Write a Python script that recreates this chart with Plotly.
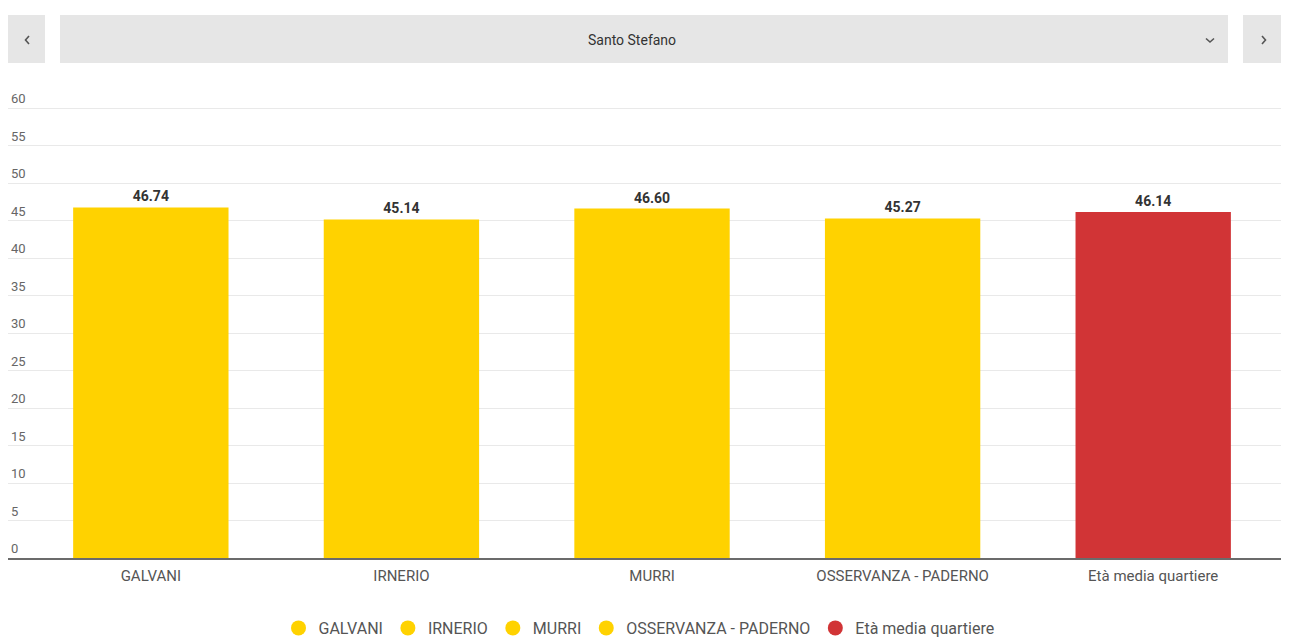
import plotly.graph_objects as go

W, H = 1290, 639

categories = ["GALVANI", "IRNERIO", "MURRI", "OSSERVANZA - PADERNO", "Età media quartiere"]
values = [46.74, 45.14, 46.60, 45.27, 46.14]
colors = ["#FFD200", "#FFD200", "#FFD200", "#FFD200", "#D13436"]
y_ticks = list(range(0, 61, 5))
selected_area = "Santo Stefano"


def px_x(x):
    return x / W


def px_y(y):
    return 1 - y / H


fig = go.Figure()

fig.add_trace(go.Bar(
    x=categories,
    y=values,
    marker=dict(color=colors, line=dict(width=0)),
    texttemplate="<b>%{y:.2f}</b>",
    textposition="outside",
    textfont=dict(family="Roboto", size=14, color="#333333"),
    cliponaxis=False,
    showlegend=False,
    hoverinfo="x+y",
))

# circular legend entries, one per category
for name, col in zip(categories, colors):
    fig.add_trace(go.Scatter(
        x=[None], y=[None], mode="markers", name=name,
        marker=dict(symbol="circle", size=15, color=col),
        showlegend=True, hoverinfo="skip",
    ))

# header controls: previous button, area dropdown, next button
shapes = []
for x0, x1 in [(8, 45), (60, 1228), (1243, 1281)]:
    shapes.append(dict(
        type="rect", xref="paper", yref="paper",
        x0=px_x(x0), x1=px_x(x1), y0=px_y(63), y1=px_y(15),
        fillcolor="#E6E6E6", line=dict(width=0), layer="above",
    ))

# keep the gridlines clear of the tick-label column
shapes.append(dict(
    type="rect", xref="paper", yref="paper",
    x0=px_x(8), x1=px_x(33), y0=px_y(556), y1=px_y(90),
    fillcolor="white", line=dict(width=0), layer="between",
))


def chevron(points):
    path = "M " + " L ".join(f"{px_x(a):.5f},{px_y(b):.5f}" for a, b in points)
    return dict(type="path", xref="paper", yref="paper", path=path,
                line=dict(color="#555555", width=1.6))


shapes.append(chevron([(29, 36), (25.5, 40), (29, 44)]))
shapes.append(chevron([(1262, 36), (1265.5, 40), (1262, 44)]))
shapes.append(chevron([(1206, 38.5), (1210, 42), (1214, 38.5)]))

# y scale: zero line at y0_px, 60 at y60_px
y0_px, y60_px = 558, 108
unit = (y0_px - y60_px) / 60
y_top = 64
fig.update_layout(
    width=W, height=H,
    margin=dict(l=0, r=0, t=0, b=0, pad=0, autoexpand=False),
    paper_bgcolor="white",
    plot_bgcolor="white",
    font=dict(family="Roboto", color="#555555"),
    bargap=0.38,
    shapes=shapes,
    annotations=[dict(
        text=selected_area, xref="paper", yref="paper",
        x=px_x(632), y=px_y(40), xanchor="center", yanchor="middle",
        showarrow=False, font=dict(family="Roboto", size=14, color="#333333"),
    )],
    legend=dict(
        orientation="h", x=px_x(639), xanchor="center", y=px_y(628), yanchor="middle",
        font=dict(family="Roboto", size=16, color="#555555"),
        itemwidth=30, traceorder="normal", bgcolor="rgba(0,0,0,0)",
    ),
    xaxis=dict(
        domain=[px_x(8), px_x(1281)],
        range=[-0.570, 4.51],
        showgrid=False, showline=True, linecolor="#6B6B6B", linewidth=2,
        ticks="", tickfont=dict(family="Roboto", size=15, color="#555555"),
        ticklabelstandoff=3, fixedrange=True,
    ),
    yaxis=dict(
        domain=[px_y(y0_px), px_y(y0_px - unit * y_top)],
        range=[0, y_top],
        tickvals=y_ticks,
        ticktext=[str(v) for v in y_ticks],
        ticklabelposition="inside top",
        tickfont=dict(family="Roboto", size=13, color="#666666"),
        showgrid=True, gridcolor="#E9E9E9", gridwidth=1,
        zeroline=False, showline=False, ticks="", fixedrange=True,
    ),
)

fig.write_html("out.html")
